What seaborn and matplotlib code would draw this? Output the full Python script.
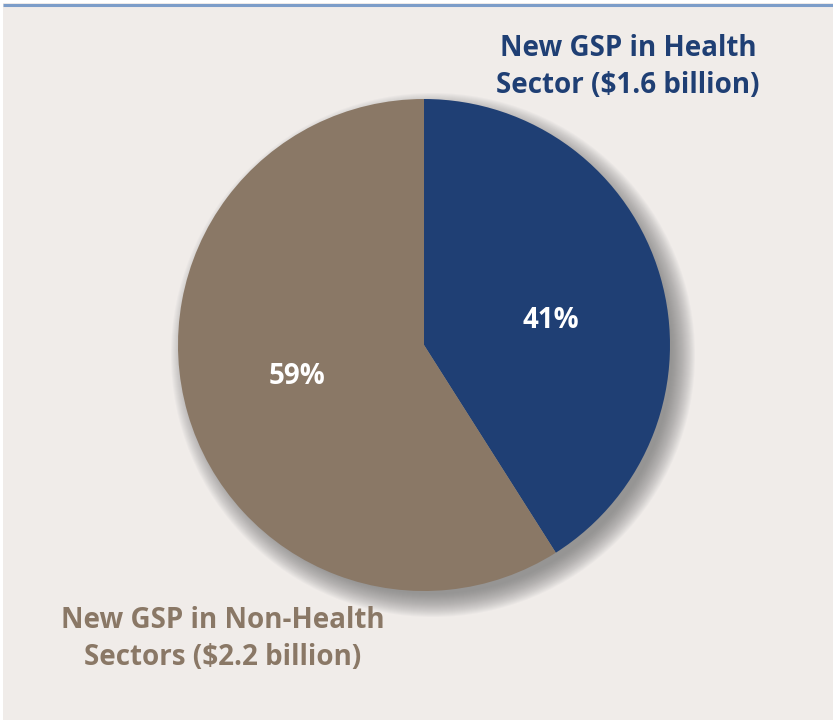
import matplotlib
matplotlib.use("Agg")
import matplotlib.pyplot as plt
import seaborn as sns
from matplotlib.patches import Circle, Rectangle

sns.set_theme(style="white")
plt.rcParams['font.family'] = ['Open Sans', 'DejaVu Sans']

# Data
categories = ["New GSP in Health\nSector ($1.6 billion)", "New GSP in Non-Health\nSectors ($2.2 billion)"]
shares = [41, 59]
pct_labels = ["41%", "59%"]
colors = ["#1F3F74", "#8A7866"]

W, H = 833, 721
fig = plt.figure(figsize=(W / 100, H / 100), dpi=100)
fig.patch.set_facecolor("white")
ax = fig.add_axes([0, 0, 1, 1])
ax.set_xlim(0, W)
ax.set_ylim(0, H)
ax.set_aspect("equal")
ax.axis("off")

bg = "#F0ECE9"
ax.add_patch(Rectangle((3, 1), W - 3, H - 4, facecolor=bg, edgecolor="none", zorder=0))
ax.plot([3, W], [H - 4.5, H - 4.5], color="#7C9DC9", lw=2.2, zorder=1, solid_capstyle="butt")

cx, cy, r = 424, H - 345, 246

# soft shadow
for i in range(24):
    rr = r + 16 - i
    ax.add_patch(Circle((cx + 9, cy - 10), rr, facecolor="#6A6A6A", edgecolor="none",
                        alpha=0.04, zorder=2))

wedges, _ = ax.pie(shares, colors=colors, startangle=90, counterclock=False,
                   center=(cx, cy), radius=r, frame=True,
                   wedgeprops=dict(edgecolor="none", zorder=3))
for w in wedges:
    w.set_zorder(3)
ax.set_xlim(0, W)
ax.set_ylim(0, H)
ax.axis("off")

ax.text(551, H - 320, pct_labels[0], color="white", fontsize=20, fontweight="bold",
        ha="center", va="center", zorder=5)
ax.text(297, H - 377, pct_labels[1], color="white", fontsize=20, fontweight="bold",
        ha="center", va="center", zorder=5)

ax.text(628, H - 67, categories[0], color=colors[0], fontsize=20, fontweight="bold",
        ha="center", va="center", linespacing=1.38, zorder=5)
ax.text(223, H - 639, categories[1], color=colors[1], fontsize=20, fontweight="bold",
        ha="center", va="center", linespacing=1.38, zorder=5)

fig.savefig("out.png", dpi=100, facecolor="white")
